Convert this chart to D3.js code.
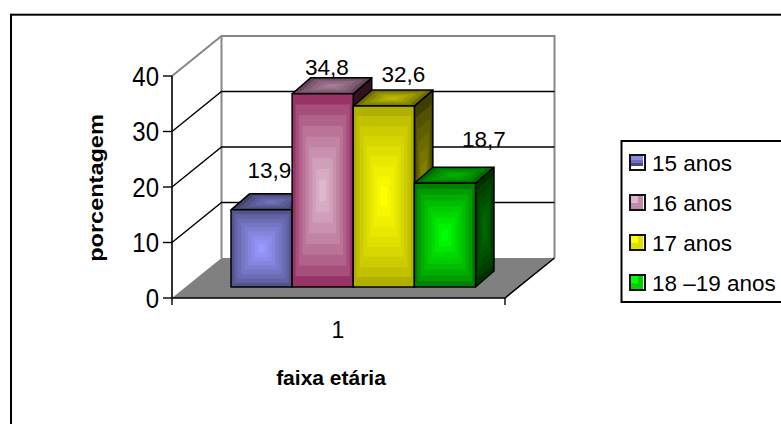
<!DOCTYPE html>
<html>
<head>
<meta charset="utf-8">
<script src="https://cdn.jsdelivr.net/npm/d3@7/dist/d3.min.js"></script>
<style>
html, body { margin: 0; padding: 0; background: #fff; }
svg { display: block; }
text { font-family: "Liberation Sans", Arial, sans-serif; fill: #000; }
</style>
</head>
<body>
<svg id="chart" width="781" height="424"></svg>
<script>
const seriesNames = ["15 anos", "16 anos", "17 anos", "18 \u201319 anos"];
const seriesValues = [13.9, 34.8, 32.6, 18.7];
const valueLabels = ["13,9", "34,8", "32,6", "18,7"];
const categories = ["1"];
const yTicks = [0, 10, 20, 30, 40];
const faceCentres = ["#9999ff", "#ddb9cd", "#ffff00", "#00ff00"];
const faceEdges = ["#54548c", "#993366", "#b0b000", "#008000"];
const topCentres = ["#6f6fb8", "#a87a98", "#b8b800", "#00b000"];
const sideCentres = ["#3c3c66", "#6d2549", "#8a8a00", "#006a00"];
const swatchBases = ["#5a5aa8", "#c08aa8", "#e0e000", "#00d000"];

const svg = d3.select("#chart");

// Frame of the chart area, open past the window's right and bottom
svg.append("rect").attr("x", 11).attr("y", 14.7).attr("width", 780).attr("height", 420)
  .attr("fill", "none").attr("stroke", "#000").attr("stroke-width", 2);

// Oblique projection: depth 0 is the front plane, depth 1 the back wall
const y = d3.scaleLinear().domain([0, 40]).range([298, 76]);
const x = d3.scaleBand().domain(categories).range([172, 505]);
const depth = { dx: 49.5, dy: -40 };
const pt = (px, py, d) => [px + depth.dx * d, py + depth.dy * d];
const line = d3.line();

const plot = svg.append("g");
const x0 = x.range()[0], x1 = x.range()[1];

// Floor
plot.append("path")
  .attr("d", line([pt(x0, y(0), 0), pt(x0, y(0), 1), pt(x1, y(0), 1), pt(x1, y(0), 0)]) + "Z")
  .attr("fill", "#808080");

// Back wall and side wall outline
plot.append("path")
  .attr("d", line([pt(x0, y(40), 0), pt(x0, y(40), 1), pt(x1, y(40), 1), pt(x1, y(0), 1)]))
  .attr("fill", "none").attr("stroke", "#868686").attr("stroke-width", 2);
plot.append("path")
  .attr("d", line([pt(x0, y(0), 1), pt(x0, y(40), 1)]))
  .attr("fill", "none").attr("stroke", "#868686").attr("stroke-width", 2);

// Gridlines across both walls
yTicks.slice(1, -1).forEach(t => {
  plot.append("path")
    .attr("d", line([pt(x0, y(t), 0), pt(x0, y(t), 1), pt(x1, y(t), 1)]))
    .attr("fill", "none").attr("stroke", "#000").attr("stroke-width", 1.4);
});

// Front axes with outward ticks
plot.append("path")
  .attr("d", line([[x0, y(0)], [x1, y(0)], pt(x1, y(0), 1)]))
  .attr("fill", "none").attr("stroke", "#000").attr("stroke-width", 1.6);
plot.append("path")
  .attr("d", line([[x0, y(0)], [x0, y(40)]]))
  .attr("fill", "none").attr("stroke", "#000").attr("stroke-width", 1.6);
yTicks.forEach(t => {
  plot.append("line").attr("x1", x0 - 9).attr("x2", x0).attr("y1", y(t)).attr("y2", y(t))
    .attr("stroke", "#000").attr("stroke-width", 1.4);
  plot.append("text")
    .attr("transform", `translate(${x0 - 13},${y(t)}) scale(1,1.15)`)
    .attr("dy", "0.36em").attr("text-anchor", "end").attr("font-size", 24).text(t);
});
[x0, x1].forEach(px => plot.append("line").attr("x1", px).attr("x2", px)
  .attr("y1", y(0)).attr("y2", y(0) + 7).attr("stroke", "#000").attr("stroke-width", 1.4));

// Bars: a band scale places them, values set their height
const barX = d3.scaleBand().domain(seriesNames).range([231, 475.5]);
const barBase = 287;
const barDepth = { dx: 18.5, dy: -16 };
const barH = v => y(0) - y(v);

// A face is painted as nested, proportionally shrinking copies toward its centre
function shadedFace(corners, inner, outer, bands) {
  const cx = d3.mean(corners, c => c[0]);
  const cy = d3.mean(corners, c => c[1]);
  const colour = d3.interpolateRgb(outer, inner);
  d3.range(bands).forEach(i => {
    const k = 1 - i / bands;
    plot.append("path")
      .attr("d", line(corners.map(c => [cx + (c[0] - cx) * k, cy + (c[1] - cy) * k])) + "Z")
      .attr("fill", colour(Math.pow(i / (bands - 1), 0.75)));
  });
  plot.append("path").attr("d", line(corners) + "Z")
    .attr("fill", "none").attr("stroke", "#000").attr("stroke-width", 1.5)
    .attr("stroke-linejoin", "round");
}

const darker = (c, k) => d3.interpolateRgb(c, "#000")(k);

seriesNames.forEach((name, i) => {
  const left = barX(name), right = left + barX.bandwidth();
  const top = barBase - barH(seriesValues[i]);
  const dx = barDepth.dx, dy = barDepth.dy;
  shadedFace([[right, top], [right + dx, top + dy], [right + dx, barBase + dy], [right, barBase]],
    sideCentres[i], darker(sideCentres[i], 0.55), 7);
  shadedFace([[left, top], [left + dx, top + dy], [right + dx, top + dy], [right, top]],
    topCentres[i], darker(topCentres[i], 0.4), 5);
  shadedFace([[left, top], [right, top], [right, barBase], [left, barBase]],
    faceCentres[i], faceEdges[i], 9);
});

// Value labels sit just above each bar's back edge
const labelX = [269.5, 327, 403.5, 484];
const labelBottom = [178, 75, 82, 147];
seriesNames.forEach((name, i) => {
  plot.append("text").attr("x", labelX[i]).attr("y", labelBottom[i])
    .attr("text-anchor", "middle").attr("font-size", 22.5).text(valueLabels[i]);
});

// Category and axis titles
plot.append("text").attr("x", 338).attr("y", 338)
  .attr("text-anchor", "middle").attr("font-size", 23).text(categories[0]);
svg.append("text").attr("x", 331).attr("y", 385).attr("text-anchor", "middle")
  .attr("font-size", 21).attr("font-weight", "bold").text("faixa et\u00e1ria");
svg.append("text").attr("transform", "translate(103,188) rotate(-90) scale(1.12,1)").attr("text-anchor", "middle")
  .attr("font-size", 21).attr("font-weight", "bold").text("porcentagem");

// Legend, its right side running past the window
const legend = svg.append("g");
legend.append("rect").attr("x", 621.5).attr("y", 141).attr("width", 180).attr("height", 161)
  .attr("fill", "#fff").attr("stroke", "#000").attr("stroke-width", 2);
const legendY = d3.scalePoint().domain(seriesNames).range([163, 283]);
seriesNames.forEach((name, i) => {
  const cy = legendY(name);
  const sx = 630, sy = cy - 8, size = 15;
  legend.append("rect").attr("x", sx).attr("y", sy).attr("width", size).attr("height", size)
    .attr("fill", "#fff");
  if (i === 0) {
    // The first swatch shades in horizontal stripes
    [["#8a8ae0", 0, 5], ["#6e6ec0", 5, 3], ["#4a4a80", 8, 3]].forEach(([c, o, h]) => {
      legend.append("rect").attr("x", sx).attr("y", sy + o).attr("width", size - 2).attr("height", h).attr("fill", c);
    });
  } else {
    legend.append("rect").attr("x", sx).attr("y", sy).attr("width", size - 2).attr("height", size)
      .attr("fill", swatchBases[i]);
    legend.append("rect").attr("x", sx).attr("y", sy).attr("width", 8).attr("height", 8)
      .attr("fill", faceCentres[i]);
  }
  legend.append("rect").attr("x", sx).attr("y", sy).attr("width", size).attr("height", size)
    .attr("fill", "none").attr("stroke", "#111").attr("stroke-width", 2);
  legend.append("text").attr("x", 652).attr("y", cy).attr("dy", "0.36em")
    .attr("font-size", 22.5).text(name);
});
</script>
</body>
</html>
